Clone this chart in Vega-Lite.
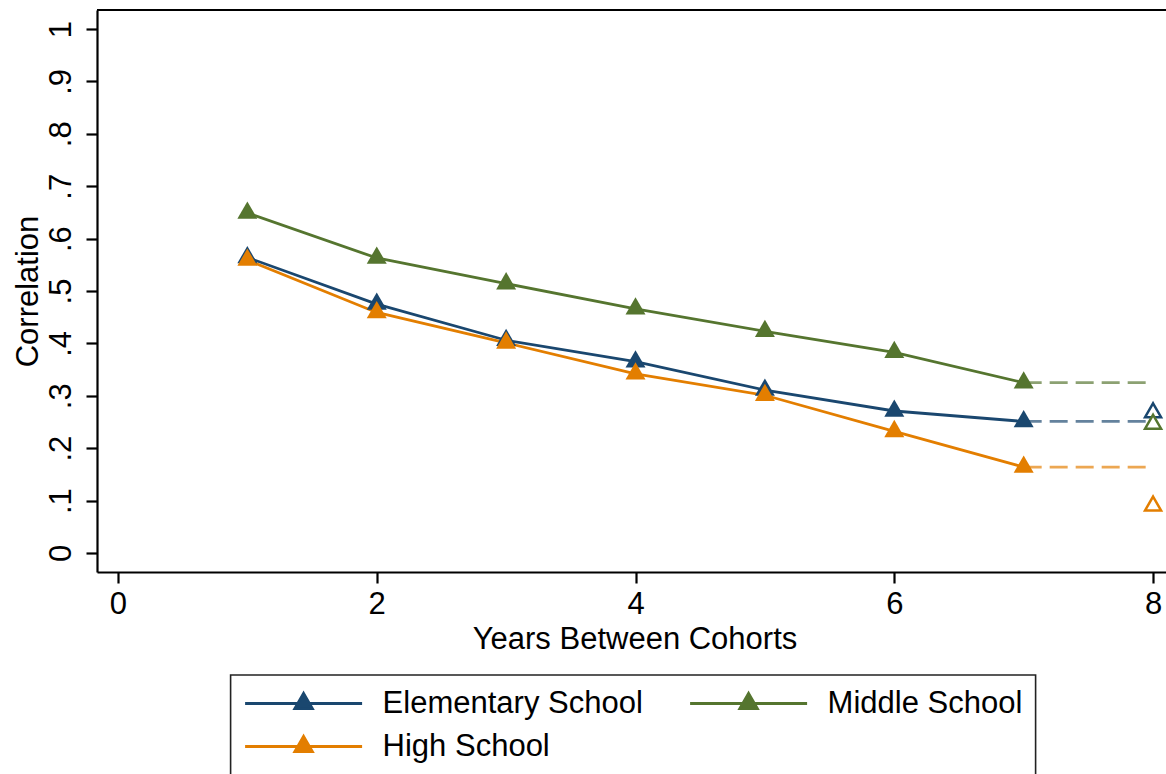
{
  "$schema": "https://vega.github.io/schema/vega-lite/v6.json",
  "width": 1069,
  "height": 562,
  "autosize": {"type": "none"},
  "padding": {"left": 97, "top": 10, "right": 0, "bottom": 202},
  "background": "white",
  "config": {
    "font": "Liberation Sans",
    "view": {"stroke": null},
    "axis": {
      "grid": false,
      "domainColor": "black",
      "domainWidth": 2.2,
      "tickColor": "black",
      "tickWidth": 2.2,
      "tickSize": 11,
      "labelFontSize": 31,
      "labelColor": "black",
      "labelFont": "Liberation Sans",
      "titleFontSize": 31,
      "titleFontWeight": "normal",
      "titleColor": "black",
      "titleFont": "Liberation Sans",
      "labelFlush": false,
      "labelOverlap": false
    }
  },
  "data": {
    "values": [
      {"series": "Elementary School", "x": 1, "y": 0.564, "kind": "main"},
      {"series": "Elementary School", "x": 2, "y": 0.475, "kind": "main"},
      {"series": "Elementary School", "x": 3, "y": 0.406, "kind": "main"},
      {"series": "Elementary School", "x": 4, "y": 0.365, "kind": "main"},
      {"series": "Elementary School", "x": 5, "y": 0.311, "kind": "main"},
      {"series": "Elementary School", "x": 6, "y": 0.271, "kind": "main"},
      {"series": "Elementary School", "x": 7, "y": 0.251, "kind": "main"},
      {"series": "Elementary School", "x": 7, "y": 0.251, "kind": "dash"},
      {"series": "Elementary School", "x": 8, "y": 0.251, "kind": "dash"},
      {"series": "Elementary School", "x": 8, "y": 0.268, "kind": "hollow"},
      {"series": "Middle School", "x": 1, "y": 0.649, "kind": "main"},
      {"series": "Middle School", "x": 2, "y": 0.563, "kind": "main"},
      {"series": "Middle School", "x": 3, "y": 0.514, "kind": "main"},
      {"series": "Middle School", "x": 4, "y": 0.466, "kind": "main"},
      {"series": "Middle School", "x": 5, "y": 0.423, "kind": "main"},
      {"series": "Middle School", "x": 6, "y": 0.383, "kind": "main"},
      {"series": "Middle School", "x": 7, "y": 0.325, "kind": "main"},
      {"series": "Middle School", "x": 7, "y": 0.325, "kind": "dash"},
      {"series": "Middle School", "x": 8, "y": 0.325, "kind": "dash"},
      {"series": "Middle School", "x": 8, "y": 0.246, "kind": "hollow"},
      {"series": "High School", "x": 1, "y": 0.559, "kind": "main"},
      {"series": "High School", "x": 2, "y": 0.459, "kind": "main"},
      {"series": "High School", "x": 3, "y": 0.401, "kind": "main"},
      {"series": "High School", "x": 4, "y": 0.342, "kind": "main"},
      {"series": "High School", "x": 5, "y": 0.301, "kind": "main"},
      {"series": "High School", "x": 6, "y": 0.232, "kind": "main"},
      {"series": "High School", "x": 7, "y": 0.164, "kind": "main"},
      {"series": "High School", "x": 7, "y": 0.164, "kind": "dash"},
      {"series": "High School", "x": 8, "y": 0.164, "kind": "dash"},
      {"series": "High School", "x": 8, "y": 0.090, "kind": "hollow"}
    ]
  },
  "encoding": {
    "x": {
      "field": "x",
      "type": "quantitative",
      "scale": {"domain": [-0.162, 8.1], "nice": false, "zero": false},
      "axis": {
        "values": [0, 2, 4, 6, 8],
        "labelBaseline": "alphabetic",
        "labelPadding": 30,
        "title": "Years Between Cohorts",
        "titleX": 537.5,
        "titleY": 76,
        "titleBaseline": "alphabetic",
        "titleAlign": "center"
      }
    },
    "y": {
      "field": "y",
      "type": "quantitative",
      "scale": {"domain": [-0.0363, 1.0363], "nice": false, "zero": false},
      "axis": {
        "values": [0, 0.1, 0.2, 0.3, 0.4, 0.5, 0.6, 0.7, 0.8, 0.9, 1],
        "labelExpr": "datum.value == 0 ? '0' : (datum.value >= 0.999 ? '1' : replace(format(datum.value, '.1f'), '0.', '.'))",
        "labelAngle": 270,
        "labelAlign": "center",
        "labelBaseline": "alphabetic",
        "labelPadding": 16,
        "title": "Correlation",
        "titleAngle": 270,
        "titleX": -60,
        "titleY": 281,
        "titleBaseline": "alphabetic",
        "titleAlign": "center"
      }
    },
    "color": {
      "field": "series",
      "type": "nominal",
      "scale": {
        "domain": ["Elementary School", "Middle School", "High School"],
        "range": ["#1a476f", "#55752f", "#e37e00"]
      },
      "legend": {
        "title": null,
        "values": ["Elementary School", "High School", "Middle School"],
        "orient": "none",
        "legendX": 133.6,
        "legendY": 665,
        "columns": 2,
        "columnPadding": 45,
        "rowPadding": 11,
        "padding": 13,
        "clipHeight": 31,
        "strokeColor": "#222222",
        "fillColor": "white",
        "symbolType": "M-1,0L1,0M0,-0.173L0.15,0.0866L-0.15,0.0866Z",
        "symbolSize": 13689,
        "symbolStrokeWidth": 2.8,
        "symbolOffset": 0,
        "labelOffset": 19,
        "labelFontSize": 31,
        "labelFont": "Liberation Sans",
        "labelColor": "black",
        "labelBaseline": "middle",
        "labelLimit": 0,
        "encode": {
          "legend": {
            "update": {
              "strokeWidth": {"value": 1.6}
            }
          },
          "symbols": {
            "update": {
              "fill": {"scale": "color", "field": "value"},
              "stroke": {"scale": "color", "field": "value"},
              "strokeWidth": {"value": 2.8},
              "opacity": {"value": 1}
            }
          }
        }
      }
    }
  },
  "layer": [
    {
      "mark": {"type": "rule", "color": "black", "strokeWidth": 2.2},
      "encoding": {"y": {"datum": 1.0363}, "x": null, "color": null}
    },
    {
      "transform": [{"filter": "datum.kind == 'dash'"}],
      "mark": {"type": "line", "strokeWidth": 2.8, "strokeDash": [18, 8], "opacity": 0.68}
    },
    {
      "transform": [{"filter": "datum.kind == 'main'"}],
      "mark": {"type": "line", "strokeWidth": 2.8}
    },
    {
      "transform": [{"filter": "datum.kind == 'main'"}],
      "mark": {"type": "point", "filled": true, "opacity": 1, "size": 400, "shape": "M0,-1.155L1,0.577L-1,0.577Z"}
    },
    {
      "transform": [{"filter": "datum.kind == 'hollow'"}],
      "mark": {"type": "point", "filled": false, "fill": "white", "opacity": 1, "strokeWidth": 2.5, "size": 256, "shape": "M0,-1.155L1,0.577L-1,0.577Z"}
    }
  ]
}
